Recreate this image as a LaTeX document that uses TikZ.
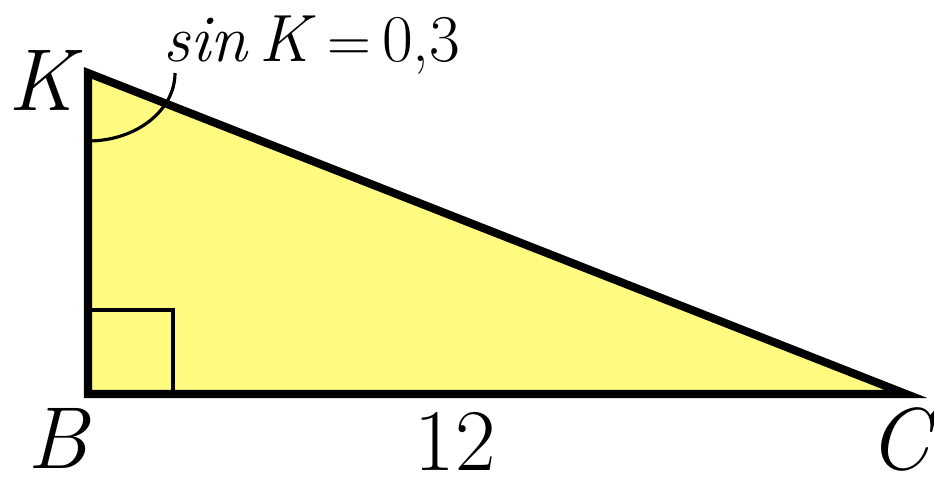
\documentclass[tikz,border=0pt]{standalone}
\usetikzlibrary{calc}
\definecolor{trifill}{RGB}{255,250,128}

\begin{document}
\begin{tikzpicture}[x=0.01cm, y=0.01cm,
  side/.style={line width=2.3pt, line join=miter},
  vlabel/.style={font=\fontsize{25}{28}\selectfont\itshape, inner sep=0pt}]
\useasboundingbox (0,0) rectangle (934,485);
\coordinate (K) at (88,412);
\coordinate (B) at (88,91);
\coordinate (C) at (906,91);
% triangle
\fill[trifill] (K) -- (B) -- (C) -- cycle;
\draw[line width=1.1pt] ($(B)+(0,84)$) -| ($(B)+(85,0)$);
\draw[line width=0.9pt] ($(K)+(0,-68)$) arc[start angle=-90, end angle=0, x radius=87, y radius=68];
\draw[side] (K) -- (B) -- (C) -- cycle;
% labels
\node[vlabel] (lK) at (42,405) {K};
\node[vlabel] (lB) at (58,47) {B};
\node[vlabel] (lC) at (899,46) {C};
\node[font=\fontsize{25}{28}\selectfont, inner sep=0pt] (side) at (455,44) {12};
\node[font=\fontsize{19}{22}\selectfont, inner sep=0pt, anchor=base west] (sinK) at (163,423)
  {\textit{sin}\,\textit{K}\,${=}$\,0,3};
\end{tikzpicture}
\end{document}
